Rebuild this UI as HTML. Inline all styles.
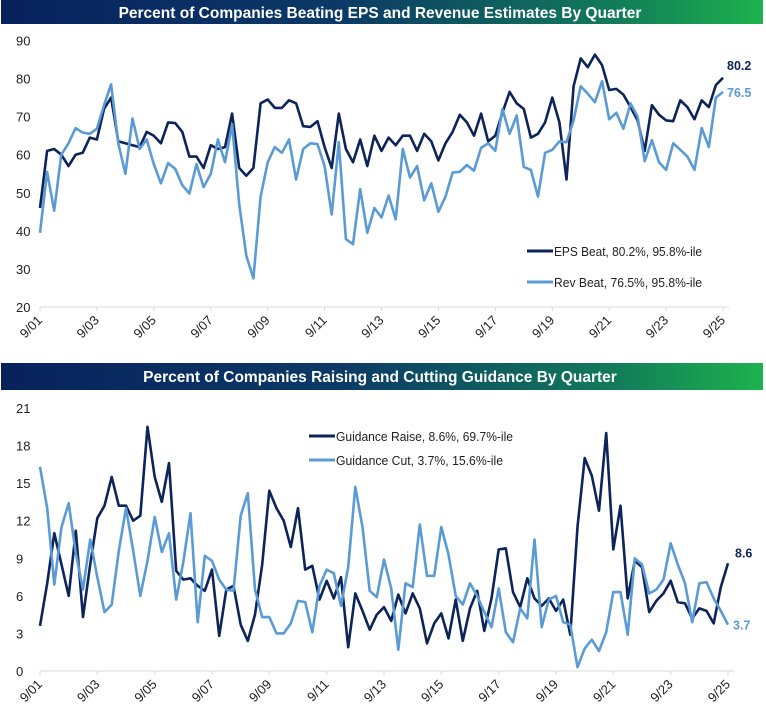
<!DOCTYPE html>
<html><head><meta charset="utf-8">
<style>
html,body{margin:0;padding:0;background:#fff;}
body{width:766px;height:713px;overflow:hidden;font-family:"Liberation Sans",sans-serif;}
svg text{font-family:"Liberation Sans",sans-serif;}
</style></head>
<body>
<svg id="chart" width="766" height="713" xmlns="http://www.w3.org/2000/svg">
<defs>
<linearGradient id="tg" x1="0" x2="1" y1="0" y2="0">
<stop offset="0" stop-color="#08215e"/><stop offset="0.45" stop-color="#0b3a66"/><stop offset="0.8" stop-color="#127a5a"/><stop offset="1" stop-color="#1db34e"/>
</linearGradient>
</defs>
<rect x="1" y="0" width="762" height="24" fill="url(#tg)"/>
<text x="380" y="18" fill="#fff" font-size="15.5" font-weight="bold" text-anchor="middle">Percent of Companies Beating EPS and Revenue Estimates By Quarter</text>
<rect x="1" y="363" width="762" height="27" fill="url(#tg)"/>
<text x="380" y="382" fill="#fff" font-size="15.5" font-weight="bold" text-anchor="middle">Percent of Companies Raising and Cutting Guidance By Quarter</text>
<g id="top"></g>
<g id="bot"></g>
</svg>
<script>
const quarterCount = 97;
const xTickLabels = ["9/01","9/03","9/05","9/07","9/09","9/11","9/13","9/15","9/17","9/19","9/21","9/23","9/25"];
const topYTicks = [20,30,40,50,60,70,80,90];
const botYTicks = [0,3,6,9,12,15,18,21];
const epsBeat = [46,61,61.5,60,57,60,60.5,64.5,64,72,75,63.5,63,62.5,62,66,65,63,68.5,68.3,66,59.5,59.5,56.5,62.5,61.5,62,70.8,56.5,54.5,56.5,73.5,74.5,72.3,72.3,74.3,73.5,67.5,67.3,68.8,62,56.5,70.8,61.5,58,64,57,65,61,64.5,62.5,65,65,61,65.5,63.5,58.5,63,66,70.5,68.5,65,70.8,63.5,65,71,76.5,73.5,72,64.5,65.5,68.5,75,68.5,53.5,78,85.3,83,86.3,83.5,77,77.3,75.8,72.5,69,61,73,70.5,69,68.8,74.3,72.5,69.3,74.3,72.5,78.3,80.2];
const revBeat = [39.5,55.5,45.3,60,63,67,65.8,65.5,66.8,73,78.5,63,55,69.5,61.5,64,57.5,52.5,57.8,56.3,52,49.8,57.5,51.5,55,64,58,68,47,33.5,27.5,49,58,62,60.5,64,53.5,61.5,63,62.8,57,44.3,63.3,37.8,36.5,51,39.5,46,43.5,49.3,43,61.5,54,57,48,52.5,45,49,55.3,55.5,57.3,55.8,61.8,63,61,72,65.5,70.3,56.8,56,49,60.5,61.3,63.5,63.3,69,78,76,73.8,79.3,69.3,71,66.8,73.5,70,58.3,63.8,58,56,63,61.3,59.5,56,67,62,75,76.5];
const guidanceRaise = [3.6,7,11,8.5,6,11.2,4.3,8.5,12.2,13.2,15.5,13.2,13.2,12,12.4,19.5,15.5,13.5,16.6,8,7.3,7.4,6.8,6.4,8.1,2.8,6.5,6.8,3.7,2.4,4.5,8.5,14.4,13,12,9.9,13,8.1,8.4,5.7,7.2,5.8,7.5,1.9,6.2,4.8,3.3,4.5,5.1,4,6.1,4.6,6.2,5,2.2,3.8,4.6,2.6,5.7,2.4,5,6.4,3.2,5.8,9.7,9.8,6.3,5.1,7.4,5.8,5.2,5.8,4.8,5.7,2.9,11.5,17,15.6,12.8,19,9.7,13.2,5.8,8.8,8.3,4.7,5.6,6.2,7.2,5.5,5.4,4.2,5,4.8,3.8,6.7,8.6];
const guidanceCut = [16.3,13,6.9,11.5,13.4,9.4,6.5,10.5,7.5,4.7,5.3,9.6,13,9.6,6,8.8,12.3,9.5,11,5.7,8.7,12.6,3.9,9.2,8.8,7.3,6.5,6.4,12.4,14.2,6.5,4.3,4.3,3,3,3.8,5.6,5.5,3.1,6.8,8.1,7.8,5.2,8.3,14.7,11.5,6.4,5.9,8.9,6.6,1.7,7,6.7,11.7,7.6,7.6,11.5,9.3,6,5.3,7,6,4.7,3.5,6.6,3.1,2.3,5,4.2,10.5,3.5,5.7,6,3.9,3.7,0.3,1.8,2.5,1.6,3.1,6.3,6.3,2.9,9,8.5,6.2,6.5,7.3,10.2,8.5,7,3.9,7,7.1,5.8,4.8,3.7];

const NS="http://www.w3.org/2000/svg";
const NAVY="#0c2459", LIGHT="#5b9bd5";
function mk(tag, attrs, parent){const e=document.createElementNS(NS,tag);for(const k in attrs)e.setAttribute(k,attrs[k]);parent.appendChild(e);return e;}

function panel(g, cfg){
  const xS = i => cfg.x0 + i*(cfg.x1-cfg.x0)/(quarterCount-1);
  const yS = v => cfg.yBase - (v-cfg.yMin)*(cfg.yBase-cfg.yTop)/(cfg.yMax-cfg.yMin);
  const ax = mk('line',{x1:cfg.x0,x2:cfg.x1+6,y1:cfg.yBase,y2:cfg.yBase,stroke:"#d9d9d9","stroke-width":1},g);
  
  
  cfg.yTicks.forEach(v=>{
    const t=mk('text',{x:16,y:yS(v)+5,"font-size":13,fill:"#222"},g);
    t.textContent=v;
    
    
  });
  xTickLabels.forEach((lab,k)=>{
    const x=xS(k*8);
    const tk=mk('line',{x1:x,x2:x,y1:cfg.yBase,y2:cfg.yBase+4,stroke:"#d9d9d9"},g);
    
    
    const t=mk('text',{x:x+3,y:cfg.yBase+14,"font-size":13,fill:"#222","text-anchor":"end",transform:`rotate(-45 ${x+3} ${cfg.yBase+14})`},g);
    t.textContent=lab;
    
    
  });
  cfg.series.forEach(s=>{
    const d=s.data.map((v,i)=>(i?'L':'M')+xS(i).toFixed(1)+' '+yS(v).toFixed(1)).join(' ');
    const p=mk('path',{d:d,fill:"none",stroke:s.color,"stroke-width":2.6,"stroke-linejoin":"round"},g);
    
    
    const last=s.data[s.data.length-1];
    const t=mk('text',{x:xS(quarterCount-1)+s.dx,y:yS(last)+s.dy,"font-size":12.5,"font-weight":"bold",fill:s.color},g);
    t.textContent=last.toFixed(1);
    
    
    const ll=mk('line',{x1:s.lx,x2:s.lx+26,y1:s.ly,y2:s.ly,stroke:s.color,"stroke-width":3},g);
    
    
    const lt=mk('text',{x:s.lx+27,y:s.ly+5,"font-size":12.5,fill:"#222",textLength:s.tl,lengthAdjust:"spacingAndGlyphs"},g);
    lt.textContent=s.label;
    
    
  });
}
panel(document.getElementById('top'),{p:'top',x0:40,x1:723,yBase:307,yTop:40.5,yMin:20,yMax:90,yTicks:topYTicks,series:[
 {name:'eps-beat',data:epsBeat,color:NAVY,dx:4,dy:-8,lx:527,ly:251,label:"EPS Beat, 80.2%, 95.8%-ile",tl:148},
 {name:'rev-beat',data:revBeat,color:LIGHT,dx:4,dy:5,lx:527,ly:282,label:"Rev Beat, 76.5%, 95.8%-ile",tl:148}]});
panel(document.getElementById('bot'),{p:'bottom',x0:40,x1:728,yBase:671,yTop:408,yMin:0,yMax:21,yTicks:botYTicks,series:[
 {name:'guidance-raise',data:guidanceRaise,color:NAVY,dx:7,dy:-6,lx:309,ly:436,label:"Guidance Raise, 8.6%, 69.7%-ile",tl:177},
 {name:'guidance-cut',data:guidanceCut,color:LIGHT,dx:5,dy:5,lx:309,ly:460,label:"Guidance Cut, 3.7%, 15.6%-ile",tl:167}]});
</script>
</body></html>
